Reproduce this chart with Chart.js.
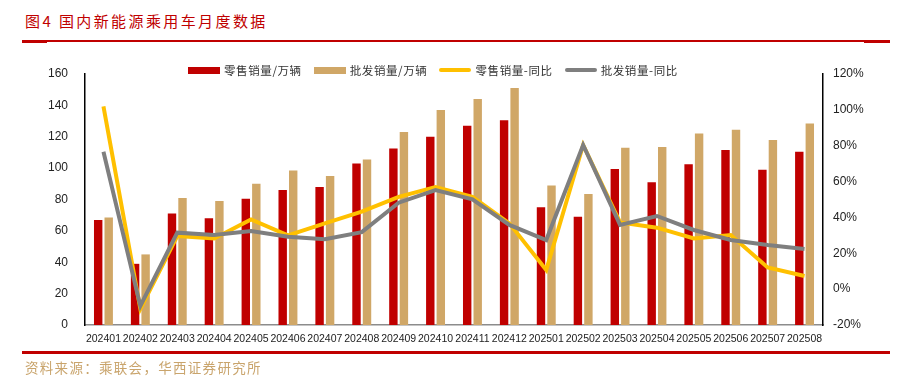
<!DOCTYPE html>
<html>
<head>
<meta charset="utf-8">
<script src="https://cdn.jsdelivr.net/npm/chart.js@4/dist/chart.umd.min.js"></script>
<style>
  body { margin: 0; background: #fff; }
  #wrap { position: relative; width: 910px; height: 385px; overflow: hidden; }
  #chart { position: absolute; left: 0; top: 0; }
  .title { position: absolute; left: 25px; top: 10px; color: #c00000; font: 15px "Noto Sans CJK SC"; letter-spacing: 2.4px; white-space: pre; }
  .rule { position: absolute; background: #c00000; }
  .source { position: absolute; left: 25px; top: 357px; color: #c9a46c; font: 13.5px "Noto Sans CJK SC"; letter-spacing: 1.3px; }
  #legend { position: absolute; top: 62px; left: 188px; display: flex; font: 11.5px "Noto Sans CJK SC"; color: #333; letter-spacing: 0.6px; }
  #legend .item { display: flex; align-items: center; margin-right: 12px; }
  #legend .swatch { width: 32px; margin-right: 4px; }
</style>
</head>
<body>
<div id="wrap">
  <div class="title">图4 国内新能源乘用车月度数据</div>
  <div class="rule" style="left:22px; top:40px; width:868px; height:2px;"></div>
  <div class="rule" style="left:22px; top:40px; width:25px; height:3px;"></div>
  <div class="rule" style="left:864px; top:40px; width:26px; height:3px;"></div>
  <canvas id="chart" width="910" height="385"></canvas>
  <div id="legend"></div>
  <div class="rule" style="left:22px; top:351px; width:868px; height:3px;"></div>
  <div class="source">资料来源：乘联会，华西证券研究所</div>
</div>
<script>
const months = ["202401","202402","202403","202404","202405","202406","202407","202408","202409","202410",
  "202411","202412","202501","202502","202503","202504","202505","202506","202507","202508"];

// 万辆
const retailSales = [67, 39, 71, 68, 80.5, 86, 88, 103, 112.5, 120, 127, 130.5, 75, 69, 99.5, 91, 102.5, 111.5, 99, 110.5];
const wholesaleSales = [68.5, 45, 81, 79, 90, 98.5, 95, 105.5, 123, 137, 144, 151, 89, 83.5, 113, 113.5, 122, 124.5, 118, 128.5];

// 同比 %
const retailYoY = [102, -11, 29.6, 28.3, 38.9, 30, 36.7, 43.2, 51.5, 57, 51.5, 36.7, 10.7, 80.4, 37.2, 34.3, 28.3, 30.2, 12.1, 7.3];
const wholesaleYoY = [76.6, -9.4, 31.5, 30.2, 32.4, 29.2, 27.8, 31.8, 48.2, 55.3, 50.1, 35.8, 27.4, 80.4, 35.8, 40.8, 33, 27.4, 24.6, 22.4];

const leftTicks = [0, 160, 20];
const rightTicks = [-20, 120, 20];

const tickFont = { family: "'Liberation Sans', Arial, sans-serif", size: 12 };

const datasets = [
  { type: "line", label: "批发销量-同比", data: wholesaleYoY, yAxisID: "y1", borderColor: "#7f7f7f",
    borderWidth: 4, pointRadius: 0, tension: 0, order: 0 },
  { type: "line", label: "零售销量-同比", data: retailYoY, yAxisID: "y1", borderColor: "#ffc000",
    borderWidth: 4, pointRadius: 0, tension: 0, order: 1 },
  { type: "bar", label: "零售销量/万辆", data: retailSales, yAxisID: "y", backgroundColor: "#c00000",
    categoryPercentage: 0.57, barPercentage: 0.8, order: 2 },
  { type: "bar", label: "批发销量/万辆", data: wholesaleSales, yAxisID: "y", backgroundColor: "#d0a767",
    categoryPercentage: 0.57, barPercentage: 0.8, order: 3 }
];

// legend order as in the picture
const legendOrder = ["零售销量/万辆", "批发销量/万辆", "零售销量-同比", "批发销量-同比"];
const legendEl = document.getElementById("legend");
legendOrder.forEach(name => {
  const ds = datasets.find(d => d.label === name);
  const item = document.createElement("div");
  item.className = "item";
  const sw = document.createElement("span");
  sw.className = "swatch";
  sw.style.height = ds.type === "bar" ? "7px" : "4px";
  sw.style.background = ds.type === "bar" ? ds.backgroundColor : ds.borderColor;
  sw.style.borderRadius = ds.type === "bar" ? "0" : "2px";
  item.appendChild(sw);
  item.appendChild(document.createTextNode(name));
  legendEl.appendChild(item);
});

new Chart(document.getElementById("chart"), {
  data: { labels: months, datasets: datasets },
  options: {
    responsive: false,
    animation: false,
    layout: { padding: { top: 74, left: 0, right: 0, bottom: 0 } },
    plugins: { legend: { display: false }, tooltip: { enabled: false } },
    scales: {
      x: {
        grid: { display: false, drawTicks: false },
        border: { color: "#8c8c8c", width: 1.5 },
        ticks: { autoSkip: false, maxRotation: 0, padding: 8, color: "#222",
          font: { family: "'Liberation Sans', Arial, sans-serif", size: 10.5 } },
        afterFit: s => { s.height = 60; }
      },
      y: {
        position: "left",
        min: leftTicks[0], max: leftTicks[1],
        grid: { display: false, drawTicks: false },
        border: { color: "#000", width: 1.5 },
        ticks: { stepSize: leftTicks[2], padding: 17, color: "#222", font: tickFont },
        afterFit: s => { s.width = 85; }
      },
      y1: {
        position: "right",
        min: rightTicks[0], max: rightTicks[1],
        grid: { display: false, drawTicks: false },
        border: { color: "#000", width: 1.5 },
        ticks: { stepSize: rightTicks[2], padding: 10, color: "#222", font: tickFont,
          callback: v => v + "%" },
        afterFit: s => { s.width = 87; }
      }
    }
  }
});
</script>
</body>
</html>
